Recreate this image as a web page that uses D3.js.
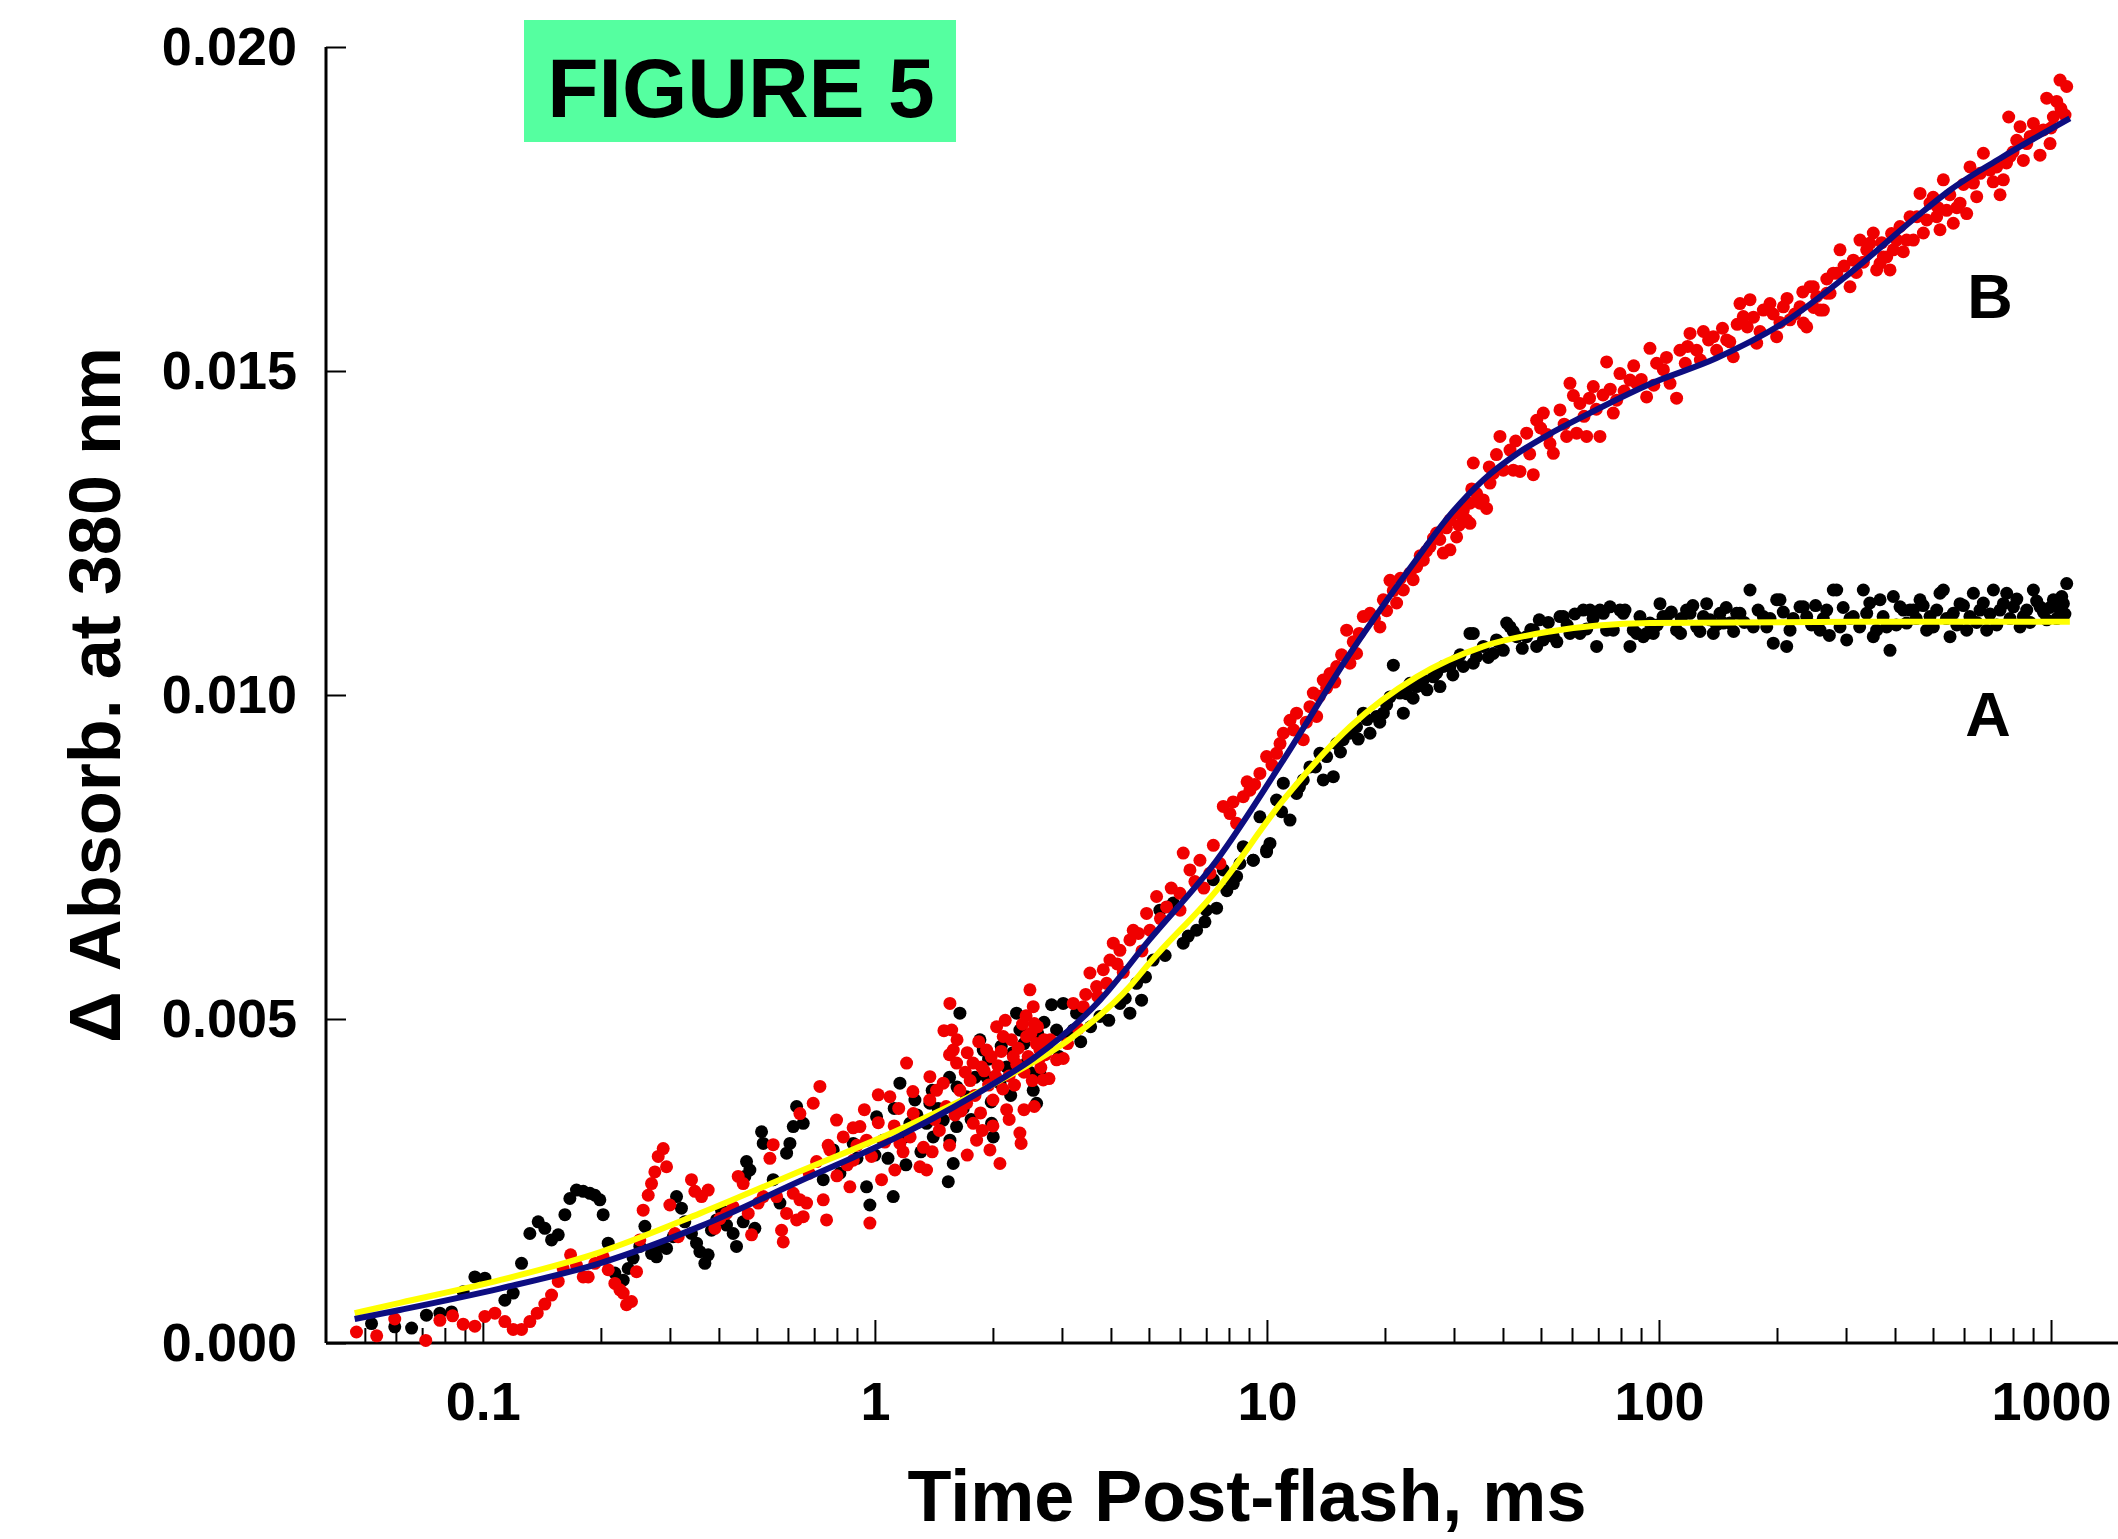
<!DOCTYPE html>
<html>
<head>
<meta charset="utf-8">
<script src="https://cdn.jsdelivr.net/npm/d3@7"></script>
<style>
  body { margin: 0; background: #fff; }
  text { font-family: "Liberation Sans", Arial, sans-serif; font-weight: bold; fill: #000; }
</style>
</head>
<body>
<svg id="chart" width="2118" height="1539"></svg>
<script>
// tick values / labels
var majorTicks = [0.1, 1, 10, 100, 1000];
var xTickLabels = ["0.1", "1", "10", "100", "1000"];
var minorTicks = [0.05, 0.06, 0.07, 0.08, 0.09,
                  0.2, 0.3, 0.4, 0.5, 0.6, 0.7, 0.8, 0.9,
                  2, 3, 4, 5, 6, 7, 8, 9,
                  20, 30, 40, 50, 60, 70, 80, 90,
                  200, 300, 400, 500, 600, 700, 800, 900];
var yTicks = [0, 0.005, 0.010, 0.015, 0.020];

// curve A (black points), [time ms, delta absorbance]
var seriesA = [
  [0.052,0.0003],[0.0596,0.00025],[0.0658,0.00023],[0.0718,0.00043],[0.0777,0.00046],[0.0832,0.00048],
  [0.0891,0.00079],[0.0954,0.00102],[0.1012,0.0010],[0.1138,0.00066],[0.1195,0.00077],[0.1255,0.00123],
  [0.1318,0.00169],[0.1384,0.00187],[0.1439,0.00177],[0.1497,0.00159],[0.1557,0.00167],[0.1619,0.00198],
  [0.1667,0.00223],[0.1733,0.00236],[0.1803,0.00234],[0.1875,0.00231],[0.1931,0.00228],[0.1988,0.00221],
  [0.2027,0.00198],[0.2088,0.00154],[0.2171,0.00108],[0.228,0.00097],[0.2348,0.00115],[0.2417,0.00131],
  [0.2514,0.00149],[0.259,0.0018],[0.2693,0.00138],[0.2773,0.00133],[0.2828,0.00149],[0.2941,0.00146],
  [0.3058,0.00164],[0.3119,0.00226],[0.321,0.00208],[0.3274,0.00187],[0.3405,0.00169],[0.3508,0.00154],
  [0.3577,0.00141],[0.3684,0.00123],[0.3756,0.00136],[0.383,0.00174],[0.3945,0.0019],[0.4063,0.00205],
  [0.4183,0.00182],[0.435,0.00169],[0.4436,0.00149],[0.4613,0.00187],[0.4659,0.00257],[0.4705,0.0028],
  [0.4798,0.00267],[0.4941,0.00177],[0.5139,0.00326],[0.519,0.00308],[0.5503,0.00252],[0.5724,0.00216],
  [0.5953,0.00293],[0.6071,0.00308],[0.6191,0.00334],[0.6314,0.00365],
  [0.6564,0.00339],[0.7383,0.00252],[0.7829,0.00298],[0.8141,0.00262],[0.8805,0.00308],[0.9521,0.00241],
  [0.971,0.00213],[1.0099,0.00349],[1.0503,0.00313],[1.1137,0.00226],[1.1583,0.00401],[1.2284,0.00339],
  [1.265,0.00375],[1.3545,0.00339],[1.3812,0.0037],[1.4085,0.00318],[1.4941,0.00344],[1.5387,0.00249],
  [1.5536,0.00313],[1.5843,0.00277],[1.6156,0.00334],[1.6475,0.00509],[1.7137,0.0038],[1.853,0.00468],
  [1.8897,0.00452],[1.9272,0.00411],[1.9846,0.00339],[2.004,0.00318],[2.0842,0.00401],[2.1677,0.00426],
  [2.2979,0.00509],[2.3434,0.00483],[2.4373,0.00432],[2.5345,0.0039],[2.5846,0.0037],[2.6357,0.00416],
  [2.8226,0.00522],[2.9066,0.00483],[3.0225,0.00524],[3.0823,0.00473],[3.2057,0.00483],[3.2692,0.00509],
  [1.08,0.00285],[1.19,0.00318],[1.31,0.00295],[1.45,0.00362],[1.68,0.00362],[1.76,0.00345],
  [1.98,0.00372],[2.22,0.00382],[2.48,0.00418],[2.75,0.00452],[2.95,0.00442],[3.35,0.00465],
  [3.55,0.00488],[3.95,0.00498],[4.35,0.00532],[4.9,0.00565],[5.5,0.00598],[6.3,0.00628],
  [7.0,0.00668],[7.9,0.00698],
  [1.12,0.00362],[1.28,0.00352],[1.4,0.0039],[1.55,0.0041],[1.62,0.00395],[1.8,0.0041],
  [1.95,0.00438],[2.1,0.00458],[2.25,0.00448],[2.4,0.00462],[2.6,0.00478],[2.7,0.00495],
  [0.9,0.00285],[1.0,0.0029],[1.2,0.00275],
  [3.7497,0.00504],[4.217,0.00524],[4.4718,0.00509],[4.6503,0.00555],[4.7887,0.00529],[5.1286,0.00591],
  [5.3333,0.00668],[5.7677,0.00679],[6.116,0.00617],[6.6145,0.00637],[6.9472,0.0065],[7.2966,0.00715],
  [7.4409,0.00671],[7.7376,0.0073],[8.205,0.00709],[8.533,0.0074],[9.2275,0.00745],[9.98,0.00758],
  [8.047,0.00715],[8.368,0.0072],[8.702,0.00766],[9.228,0.00745],[9.596,0.00812],[9.98,0.00761],
  [10.18,0.00771],[10.58,0.00838],[11.01,0.00864],[11.45,0.00807],[11.9,0.00848],[12.38,0.00869],
  [12.87,0.00889],[13.65,0.0091],[13.92,0.00869],[14.77,0.00874],[15.06,0.00925],[15.65,0.00931],
  [16.28,0.00941],[16.93,0.00951],[17.61,0.00972],[18.32,0.00941],[19.05,0.00967],[19.81,0.00972],
  [20.6,0.00997],[21.01,0.01046],[21.84,0.01003],[22.28,0.00972],[23.17,0.01018],[24.09,0.01013],
  [25.05,0.01023],[26.57,0.01028],[27.63,0.01013],[28.18,0.01044],[29.3,0.01044],[30.47,0.01054],
  [31.68,0.01044],[32.95,0.01095],[34.26,0.01059],[35.63,0.01075],[37.79,0.01064],[40.08,0.01069],
  [10.9,0.0082],[12.1,0.00858],[13.3,0.00889],[14.2,0.00905],[15.4,0.00912],[17.1,0.00932],
  [18.0,0.00962],[19.4,0.00958],[20.2,0.00985],[22.7,0.01002],[23.6,0.00995],[25.6,0.01008],
  [27.1,0.01034],[29.8,0.01031],[31.1,0.01062],[33.6,0.01049],[36.7,0.01058],[38.5,0.01085],
  [41.69,0.01105],[43.35,0.0109],[45.97,0.0109],[48.75,0.01075],[49.5,0.01116],[50.7,0.01085],
  [53.77,0.0109],[57.02,0.01121],[59.29,0.01095],[62.87,0.01095],[66.68,0.01131],[69.34,0.01075],
  [72.11,0.01126],[76.46,0.011],[81.1,0.01126],[84.33,0.01075],[89.43,0.01121],[93.01,0.01095],
  [33.6,0.01095],[40.88,0.01111],[47.8,0.011],[55.91,0.01121],[64.12,0.01131],[73.53,0.011],
  [81.9,0.01131],[87.7,0.01095],[94.84,0.01111],[100.6,0.01141],[110.9,0.011],[120,0.01126],
  [132.3,0.01141],[145.9,0.01111],[157.8,0.01126],[170.7,0.01162],[184.6,0.01121],[199.6,0.01147],
  [215.9,0.011],[233.5,0.01136],[257.5,0.011],[284,0.01162],[301.2,0.01085],[332.1,0.01162],
  [359.1,0.011],[396.1,0.01152],[436.8,0.01131],[481.8,0.011],[521,0.01157],
  [38.9,0.01082],[42.5,0.01098],[44.8,0.01072],[47.1,0.01101],[52.2,0.01112],[54.9,0.01082],
  [58.3,0.01108],[61.0,0.01125],[65.4,0.01102],[67.9,0.01118],[70.7,0.01131],[75.0,0.01136],
  [79.5,0.01131],[86.0,0.011],[91.2,0.0109],[99.0,0.01108],[107.5,0.01128],[114.0,0.01118],
  [122.0,0.01138],[127.2,0.01098],[135.0,0.01116],[140.2,0.01108],[148.4,0.01135],[155.0,0.01098],
  [165.0,0.01112],[179.0,0.01131],[192.0,0.01118],[207.5,0.01128],[220.0,0.01118],[245.0,0.01108],
  [250.8,0.01138],[262.5,0.01118],[272.0,0.01092],[295.0,0.01135],[307.0,0.01118],[325.0,0.01105],
  [345.0,0.01142],[373.0,0.01121],[403.0,0.01108],[420.0,0.01131],[453.0,0.01118],[472.0,0.01138],
  [511.0,0.01131],[541.0,0.01118],[575.0,0.01108],[598.0,0.01138],[621.0,0.01121],[646.0,0.01112],
  [672.0,0.01142],[699.0,0.01125],[727.0,0.01108],[756.0,0.01141],[786.0,0.01118],[818.0,0.01148],
  [850.0,0.01121],[884.0,0.01112],[919.0,0.01145],[956.0,0.01128],[994.0,0.01135],[1034.0,0.01118],
  [1065.0,0.01152],[1085.0,0.01125],
  [96.72,0.01095],[102.4,0.01121],[104.6,0.01121],[113.5,0.01095],[117.6,0.01131],[124.8,0.01105],
  [129.8,0.01121],[137.6,0.01095],[143.1,0.01126],[151.7,0.01111],[160.9,0.01126],[174,0.01105],
  [188.3,0.01105],[195.7,0.0108],[203.6,0.01147],[211.7,0.01075],[228.9,0.01136],[238.1,0.01121],
  [267.8,0.01131],[278.4,0.01162],[289.6,0.01105],[313.1,0.01121],[338.7,0.01126],[352.1,0.0109],
  [366.3,0.01147],[380.9,0.01105],[388.4,0.01069],[411.9,0.01136],[428.3,0.01111],[445.5,0.01131],
  [463.3,0.01147],[491.3,0.01121],[501,0.01105],[531.3,0.01162],[552.5,0.0109],[563.3,0.01126],
  [586,0.01141],[609.4,0.011],[633.8,0.01157],[659.1,0.01131],[685.5,0.011],[712.9,0.01162],
  [741.3,0.01131],[770.9,0.01157],[801.8,0.01136],[833.8,0.01105],[867.1,0.01131],[901.6,0.01162],
  [937.4,0.01136],[975,0.01116],[1013.9,0.01147],[1054.3,0.01131],[1075.3,0.01141],[1096.5,0.01172]
];

// curve B (red points)
var seriesB = [
  [0.0476,0.00017],[0.0536,0.00011],[0.0596,0.00037],[0.0715,0.00004],[0.0777,0.00035],[0.0837,0.00042],
  [0.0891,0.00029],[0.0954,0.00026],[0.1012,0.00041],[0.1073,0.00046],[0.1138,0.00033],[0.1195,0.00021],
  [0.1255,0.00021],[0.1318,0.00033],[0.1376,0.00046],[0.1439,0.0006],[0.1497,0.00074],[0.1557,0.00095],
  [0.1603,0.00115],[0.1674,0.00136],[0.1733,0.0012],[0.1803,0.00102],[0.1857,0.00102],[0.1931,0.00123],
  [0.2027,0.00133],[0.2088,0.00113],[0.2171,0.00092],[0.2236,0.00082],[0.228,0.00077],[0.2325,0.00059],
  [0.2394,0.00064],[0.2466,0.0011],[0.2514,0.00159],[0.2564,0.00205],[0.2641,0.00228],[0.2693,0.00246],
  [0.2746,0.00264],[0.2801,0.00288],[0.2884,0.003],[0.2941,0.00272],[0.2999,0.00213],[0.3089,0.00169],
  [0.315,0.00164],[0.3405,0.00252],[0.3474,0.00234],[0.3612,0.00226],[0.3756,0.00236],[0.3907,0.00177],
  [0.4024,0.00192],[0.4183,0.002],[0.435,0.0021],[0.448,0.00257],[0.4613,0.00246],[0.4752,0.002],
  [0.4846,0.00167],[0.5039,0.00216],[0.519,0.00226],[0.5397,0.00285],[0.5503,0.00306],[0.5613,0.00226],
  [0.578,0.00174],[0.5837,0.00156],[0.5953,0.002],[0.6191,0.00231],[0.6314,0.0019],[0.6438,0.00221],
  [0.6438,0.00354],[0.6564,0.00195],[0.6694,0.00216],[0.6961,0.0037],[0.724,0.00396],[0.7383,0.00221],
  [0.7528,0.0019],[0.7677,0.00298],[0.7983,0.00344],[0.8303,0.00318],[0.8634,0.00241],[0.8805,0.00282],
  [0.9157,0.00334],[0.9521,0.00313],[0.971,0.00185],[1.0198,0.00383],[1.0399,0.00252],[1.0921,0.0038],
  [1.1244,0.00267],[1.1583,0.00308],[1.2045,0.00432],[1.2526,0.00354],[1.3026,0.00272],[1.3545,0.00267],
  [1.3812,0.00411],[1.4363,0.0039],[1.4941,0.00401],[1.5536,0.00524],[1.57,0.00483],[1.5843,0.00452],
  [1.6156,0.00432],[1.6475,0.0039],[1.7137,0.0037],[1.7819,0.00339],[1.8171,0.00313],[1.8716,0.00426],
  [1.9272,0.00452],[1.9652,0.00298],[2.0437,0.00488],[2.0842,0.00277],[2.1251,0.00473],[2.1677,0.0036],
  [2.254,0.00442],[2.3434,0.00324],[2.36,0.00308],[2.4373,0.00473],[2.4856,0.00545],[2.5345,0.00519],
  [2.55,0.00493],[2.6357,0.00452],[2.6878,0.00406],[2.9066,0.00437],[3.0225,0.00439],[3.2057,0.00524],
  [1.06,0.0031],[1.12,0.00335],[1.18,0.00295],[1.23,0.00318],[1.28,0.0034],[1.33,0.00302],
  [1.42,0.00345],[1.46,0.00328],[1.52,0.00365],[1.6,0.00352],[1.66,0.00358],[1.75,0.00405],
  [1.8,0.00382],[1.86,0.00355],[1.95,0.00398],[2.0,0.00375],[2.06,0.00428],[2.12,0.00392],
  [2.2,0.00412],[2.27,0.00398],[2.32,0.00455],[2.4,0.00418],[2.46,0.00442],[2.52,0.00405],
  [2.58,0.00462],[2.62,0.00438],[2.72,0.00445],[2.8,0.00468],[0.98,0.00288],[0.9,0.00305],
  [0.85,0.00275],[0.8,0.00258],[0.76,0.00305],[0.71,0.0028],[0.68,0.00262],
  [1.5,0.00482],[1.55,0.00445],[1.62,0.00468],[1.7,0.00418],[1.72,0.00448],[1.78,0.00432],
  [1.84,0.00465],[1.9,0.0042],[1.98,0.00442],[2.03,0.00412],[2.1,0.0045],[2.15,0.00498],
  [2.23,0.00468],[2.3,0.0043],[2.38,0.00492],[2.43,0.00505],[2.5,0.00478],[2.6,0.00488],
  [2.65,0.00425],[2.7,0.00468],[1.38,0.00375],[1.25,0.00388],[1.15,0.00362],[1.02,0.0034],
  [0.94,0.0036],[0.88,0.00332],[1.4,0.00295],[1.55,0.00305],[1.72,0.0029],[1.88,0.00328],
  [2.0,0.00335],[2.2,0.00345],[2.4,0.0036],[2.55,0.00365],[2.78,0.00408],
  [3.4005,0.00519],[3.5362,0.00571],[3.6774,0.0055],[3.8242,0.00576],[3.977,0.00591],[4.0556,0.00617],
  [4.217,0.00606],[4.4718,0.00622],[4.5604,0.00637],[4.9317,0.00663],[5.0293,0.00637],[5.23,0.00689],
  [5.5463,0.00673],[5.9989,0.00694],[6.116,0.00756],[6.362,0.0073],[6.7468,0.00745],[7.1541,0.00725],
  [7.5871,0.0074],
  [3.1,0.00462],[3.3,0.00485],[3.45,0.00538],[3.7,0.00535],[3.9,0.00555],[4.15,0.00585],
  [4.3,0.00572],[4.7,0.00632],[4.8,0.00605],[5.35,0.00655],[5.7,0.00702],[6.0,0.00668],
  [6.55,0.00712],[6.9,0.00702],[7.3,0.00768],
  [7.738,0.00828],[8.047,0.00817],[8.368,0.00802],[8.702,0.00843],[9.049,0.00853],[9.596,0.00879],
  [9.98,0.00905],[10.58,0.0091],[11.01,0.00941],[11.45,0.00961],[11.9,0.00972],[12.38,0.00931],
  [12.87,0.00982],[13.13,0.01003],[13.39,0.00967],[13.92,0.01023],[14.48,0.01033],[15.06,0.01044],
  [15.97,0.011],[16.28,0.01049],[16.93,0.01064],[17.61,0.01121],[18.32,0.01126],[19.42,0.01105],
  [19.81,0.01147],[20.6,0.01177],[21.42,0.01142],[22.28,0.01162],[23.17,0.01188],[24.09,0.01198],
  [25.05,0.01208],[26.05,0.01229],[27.09,0.0125],[28.18,0.01219],[29.3,0.0127],[30.47,0.01244],
  [31.68,0.01285],[32.95,0.01265],[34.94,0.01296],[36.34,0.01288],
  [8.2,0.00835],[8.9,0.00866],[9.3,0.00862],[10.3,0.00892],[10.8,0.00925],[11.7,0.00946],
  [12.6,0.00958],[13.6,0.00998],[14.2,0.01011],[14.9,0.0102],[15.5,0.01062],[16.6,0.01082],
  [17.2,0.01095],[18.8,0.01118],[20.2,0.0113],[21.0,0.01161],[21.9,0.0118],[23.6,0.01178],
  [24.6,0.01215],[25.5,0.01222],[26.6,0.01242],[27.6,0.0124],[28.7,0.01258],
  [29.3,0.01224],[31.07,0.0128],[32.31,0.0127],[32.95,0.01296],[33.6,0.01358],[34.26,0.01311],
  [35.63,0.01301],[37.06,0.01327],[37.79,0.01342],[39.3,0.01399],[40.08,0.01347],[41.69,0.01378],
  [42.51,0.01347],[44.21,0.01345],[45.97,0.01404],[47.8,0.0134],[48.75,0.01424],[50.7,0.01435],
  [52.72,0.01388],[53.77,0.01373],[55.91,0.0144],[58.14,0.01399],[59.29,0.01481],[61.66,0.01404],
  [62.87,0.0145],[65.38,0.01399],[67.99,0.01476],[70.7,0.01399],[73.53,0.01514],[76.46,0.01435],
  [79.51,0.01496],[84.33,0.01486],[87.7,0.01481],[93.01,0.0146],[94.84,0.01535],[98.63,0.01512],
  [102.6,0.01502],[106.7,0.01481],[110.9,0.01458],[113.1,0.01532],[120,0.01558],[124.8,0.01532],
  [129.8,0.01561],[137.6,0.01553],[140.3,0.01532],[148.8,0.01548],[154.7,0.01522],[160.9,0.01604],
  [164.1,0.01584],[170.7,0.0161],[177.5,0.01543],[184.6,0.01594],[191.9,0.01604],[199.6,0.01553],
  [207.6,0.01599],[215.9,0.01579],[228.9,0.01599],[238.1,0.01568],[242.8,0.0163],[252.5,0.01615],
  [262.6,0.01594],[273.1,0.0162],[284,0.01651],[289.6,0.01687],[307.1,0.0163],[313.1,0.01671],
  [325.6,0.01702],[338.7,0.01687],[359.1,0.01656],[366.3,0.01666],[380.9,0.01676],[396.1,0.01687],
  [411.9,0.01723],[428.3,0.01702],[436.8,0.01738],[463.3,0.01774],[472.5,0.01713],[491.3,0.01759],
  [510.9,0.01738],[521,0.01718],[531.3,0.01795],[541.8,0.01748],
  [30.9,0.01262],[33.3,0.01318],[36.9,0.01352],[38.5,0.01371],[43.1,0.01392],[46.8,0.01372],
  [49.9,0.01412],[51.8,0.01402],[57.3,0.01418],[60.5,0.01462],[64.4,0.0143],[66.5,0.01458],
  [69.2,0.01441],[72.0,0.01463],[75.1,0.01472],[78.0,0.01455],[81.5,0.01469],[86.2,0.01508],
  [90.1,0.01487],[97.0,0.01478],[104.5,0.01521],[116.7,0.01512],[118.3,0.01538],[127.5,0.01517],
  [133.8,0.01548],[145.2,0.01566],[151.6,0.01545],[158.3,0.01572],[168.0,0.01568],[174.2,0.01583],
  [181.0,0.01561],[195.5,0.01588],[203.5,0.01575],[212.2,0.01612],[222.0,0.01588],[232.7,0.01622],
  [248.0,0.01598],[268.0,0.01642],[296.5,0.01662],[318.7,0.01652],[332.1,0.01668],[345.0,0.01697],
  [370.0,0.01698],[392.0,0.01712],[420.0,0.01684],[455.0,0.01738],[482.0,0.01733],[500.5,0.01768],
  [515.0,0.01752],[552.0,0.01772],[575.0,0.01752],[598.0,0.01788],[634.0,0.0179],[660.0,0.01805],
  [712.0,0.01792],[770.0,0.01821],[800.0,0.01838],[850.0,0.01825],[885.0,0.01862],[920.0,0.01868],
  [1000.0,0.01875],[1060.0,0.01905],
  [233.5,0.01574],[247.6,0.0163],[257.5,0.01594],[267.8,0.0162],[278.4,0.01651],[352.1,0.01713],
  [373.5,0.01676],[388.4,0.01656],[403.9,0.01702],[445.5,0.01702],
  [563.3,0.01728],[586,0.01759],[609.4,0.01743],[621.4,0.01815],[646.3,0.01769],[672.2,0.01836],
  [699,0.0181],[726.9,0.01815],[741.3,0.01772],[755.9,0.01795],[786.2,0.01831],[780,0.01892],
  [817.6,0.01856],[833.8,0.01877],[867.1,0.01851],[901.6,0.01882],[937.4,0.01833],[955.9,0.01872],
  [975,0.01921],[994.2,0.01851],[1013.9,0.01892],[1033.9,0.01916],[1054.3,0.01949],[1096.5,0.01939],
  [1085.7,0.01895]
];

// fitted curves
var fitA = [
  [0.0471,0.00046],[0.0614,0.00062],[0.1104,0.00097],[0.1986,0.0014],[0.3581,0.002],[0.6442,0.00265],
  [1.159,0.0033],[2.084,0.00405],[3.162,0.0047],[4.467,0.0055],[5.012,0.00586],[7.447,0.00699],
  [11.02,0.00838],[16.29,0.00951],[24.1,0.01028],[35.65,0.01075],[52.72,0.01098],[94.84,0.01111],
  [316.2,0.01113],[1117,0.01113]
];
var fitB = [
  [0.0471,0.00037],[0.0614,0.00051],[0.1104,0.00084],[0.1986,0.00123],[0.3581,0.0018],[0.6442,0.0025],
  [1.159,0.0032],[2.084,0.00406],[2.535,0.00439],[3.75,0.00529],[5.012,0.00622],[7.447,0.00745],
  [11.02,0.009],[16.29,0.01064],[20.0,0.01142],[24.1,0.0121],[29.31,0.01278],[35.65,0.01332],
  [43.35,0.01372],[52.7,0.01403],[64.12,0.0143],[94.84,0.0148],[140.3,0.0152],[207.5,0.01574],
  [306.9,0.01651],[453.9,0.01738],[552.1,0.01779],[741.3,0.01828],[1117,0.0189]
];

var svg = d3.select("#chart");

var xScale = d3.scaleLog().domain([0.0398, 1482]).range([326, 2118]);
var yScale = d3.scaleLinear().domain([0, 0.02]).range([1343, 47]);

// axis lines
svg.append("line")
    .attr("x1", xScale.range()[0]).attr("x2", xScale.range()[1])
    .attr("y1", yScale(0)).attr("y2", yScale(0))
    .attr("stroke", "#000").attr("stroke-width", 3);
svg.append("line")
    .attr("x1", xScale.range()[0]).attr("x2", xScale.range()[0])
    .attr("y1", yScale(0)).attr("y2", yScale(0.02))
    .attr("stroke", "#000").attr("stroke-width", 3);

// x axis: major + minor ticks pointing up
var xMajor = svg.append("g")
    .attr("transform", "translate(0," + yScale(0) + ")")
    .call(d3.axisBottom(xScale)
        .tickValues(majorTicks)
        .tickSize(-23)
        .tickPadding(39)
        .tickFormat(function (d, i) { return xTickLabels[i]; }));
var xMinor = svg.append("g")
    .attr("transform", "translate(0," + yScale(0) + ")")
    .call(d3.axisBottom(xScale)
        .tickValues(minorTicks)
        .tickSize(-15)
        .tickFormat(""));

// y axis, ticks pointing right
var yAxis = svg.append("g")
    .attr("transform", "translate(" + xScale.range()[0] + ",0)")
    .call(d3.axisLeft(yScale)
        .tickValues(yTicks)
        .tickSize(-20)
        .tickPadding(29)
        .tickFormat(d3.format(".3f")));

[xMajor, xMinor, yAxis].forEach(function (g) {
	g.select(".domain").remove();
	g.selectAll(".tick line").attr("stroke", "#000").attr("stroke-width", 2);
	g.selectAll(".tick text")
		.attr("fill", "#000")
		.style("font-size", "54px")
		.style("font-family", "'Liberation Sans', Arial, sans-serif")
		.style("font-weight", "bold");
});

// axis titles
svg.append("text")
    .attr("transform", "translate(120,695) rotate(-90)")
    .attr("text-anchor", "middle")
    .style("font-size", "72px")
    .text("\u0394 Absorb. at 380 nm");
svg.append("text")
    .attr("x", 1247).attr("y", 1521)
    .attr("text-anchor", "middle")
    .style("font-size", "72px")
    .text("Time Post-flash, ms");

// data points
svg.append("g").selectAll("circle")
    .data(seriesA)
    .enter()
  .append("circle")
    .attr("cx", function (d) { return xScale(d[0]); })
    .attr("cy", function (d) { return yScale(d[1]); })
    .attr("r", 6.5)
    .attr("fill", "#000");

svg.append("g").selectAll("circle")
    .data(seriesB)
    .enter()
  .append("circle")
    .attr("cx", function (d) { return xScale(d[0]); })
    .attr("cy", function (d) { return yScale(d[1]); })
    .attr("r", 6.5)
    .attr("fill", "#f00000");

// fit lines
var line = d3.line()
    .x(function (d) { return xScale(d[0]); })
    .y(function (d) { return yScale(d[1]); })
    .curve(d3.curveMonotoneX);

svg.append("path")
    .datum(fitA)
    .attr("d", line)
    .attr("fill", "none")
    .attr("stroke", "#ffff00")
    .attr("stroke-width", 6);
svg.append("path")
    .datum(fitB)
    .attr("d", line)
    .attr("fill", "none")
    .attr("stroke", "#0d0d80")
    .attr("stroke-width", 6);

// curve labels
svg.append("text").attr("x", 1990).attr("y", 318)
    .attr("text-anchor", "middle").style("font-size", "63px").text("B");
svg.append("text").attr("x", 1988).attr("y", 736)
    .attr("text-anchor", "middle").style("font-size", "63px").text("A");

// figure badge
svg.append("rect")
    .attr("x", 524).attr("y", 20)
    .attr("width", 432).attr("height", 122)
    .attr("fill", "#55ffa0");
svg.append("text")
    .attr("x", 741).attr("y", 117)
    .attr("text-anchor", "middle")
    .style("font-size", "84px")
    .text("FIGURE 5");
</script>
</body>
</html>
